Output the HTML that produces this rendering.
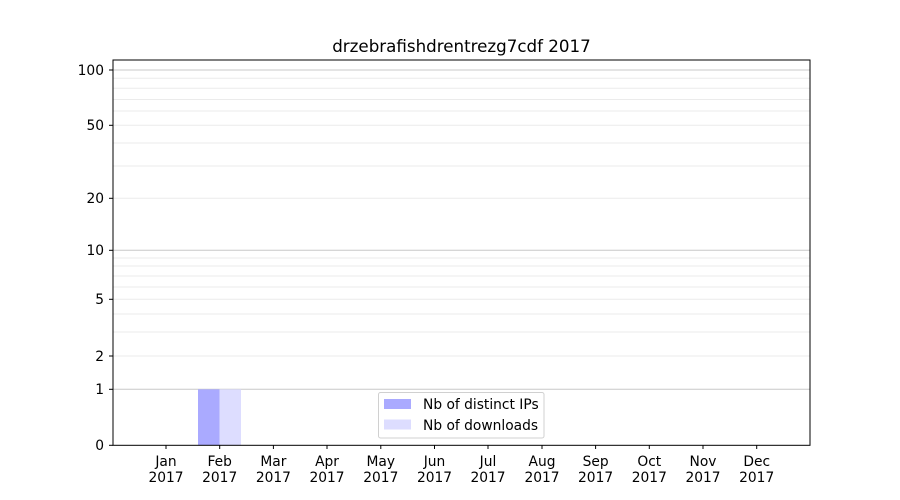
<!DOCTYPE html>
<html><head><meta charset="utf-8"><style>body{margin:0;background:#fff}svg{display:block}text{font-family:"DejaVu Sans","Liberation Sans",sans-serif;font-size:13.8px;fill:#000}</style></head><body>
<svg width="900" height="500" xmlns="http://www.w3.org/2000/svg">
<rect width="900" height="500" fill="#fff"/>
<g stroke="#ebebeb" stroke-width="1">
<line x1="113" x2="810" y1="78.3" y2="78.3"/><line x1="113" x2="810" y1="88.3" y2="88.3"/><line x1="113" x2="810" y1="99.5" y2="99.5"/><line x1="113" x2="810" y1="111" y2="111"/><line x1="113" x2="810" y1="143" y2="143"/><line x1="113" x2="810" y1="166" y2="166"/><line x1="113" x2="810" y1="198.3" y2="198.3"/><line x1="113" x2="810" y1="125.3" y2="125.3"/>
<line x1="113" x2="810" y1="258" y2="258"/><line x1="113" x2="810" y1="266" y2="266"/><line x1="113" x2="810" y1="276" y2="276"/><line x1="113" x2="810" y1="287" y2="287"/><line x1="113" x2="810" y1="299.3" y2="299.3"/><line x1="113" x2="810" y1="314" y2="314"/><line x1="113" x2="810" y1="332" y2="332"/><line x1="113" x2="810" y1="356" y2="356"/>
</g>
<g stroke="#c8c8c8" stroke-width="1"><line x1="113" x2="810" y1="70" y2="70"/><line x1="113" x2="810" y1="250.3" y2="250.3"/><line x1="113" x2="810" y1="389.3" y2="389.3"/></g>
<rect x="198" y="389.3" width="21.5" height="56" fill="#aaaaff"/>
<rect x="219.5" y="389.3" width="21.5" height="56" fill="#ddddff"/>
<rect x="113" y="60" width="697" height="385.3" fill="none" stroke="#000" stroke-width="1"/>
<text x="461.5" y="52" text-anchor="middle" style="font-size:16.7px">drzebrafishdrentrezg7cdf 2017</text>
<g stroke="#000"><line x1="109" x2="113" y1="70" y2="70"/><line x1="109" x2="113" y1="125.3" y2="125.3"/><line x1="109" x2="113" y1="198.3" y2="198.3"/><line x1="109" x2="113" y1="250.3" y2="250.3"/><line x1="109" x2="113" y1="299.3" y2="299.3"/><line x1="109" x2="113" y1="356" y2="356"/><line x1="109" x2="113" y1="389.3" y2="389.3"/><line x1="109" x2="113" y1="445.3" y2="445.3"/></g>
<g text-anchor="end"><text x="104" y="75">100</text><text x="104" y="130">50</text><text x="104" y="203">20</text><text x="104" y="255">10</text><text x="104" y="304">5</text><text x="104" y="361">2</text><text x="104" y="394">1</text><text x="104" y="450">0</text></g>
<g stroke="#000">
<line x1="166" x2="166" y1="445" y2="449"/><line x1="219.7" x2="219.7" y1="445" y2="449"/><line x1="273.4" x2="273.4" y1="445" y2="449"/><line x1="327" x2="327" y1="445" y2="449"/><line x1="380.8" x2="380.8" y1="445" y2="449"/><line x1="434.5" x2="434.5" y1="445" y2="449"/><line x1="488" x2="488" y1="445" y2="449"/><line x1="542" x2="542" y1="445" y2="449"/><line x1="595.6" x2="595.6" y1="445" y2="449"/><line x1="649.3" x2="649.3" y1="445" y2="449"/><line x1="703" x2="703" y1="445" y2="449"/><line x1="756.7" x2="756.7" y1="445" y2="449"/>
</g>
<g text-anchor="middle">
<text x="166" y="466">Jan</text><text x="166" y="482">2017</text>
<text x="219.7" y="466">Feb</text><text x="219.7" y="482">2017</text>
<text x="273.4" y="466">Mar</text><text x="273.4" y="482">2017</text>
<text x="327" y="466">Apr</text><text x="327" y="482">2017</text>
<text x="380.8" y="466">May</text><text x="380.8" y="482">2017</text>
<text x="434.5" y="466">Jun</text><text x="434.5" y="482">2017</text>
<text x="488" y="466">Jul</text><text x="488" y="482">2017</text>
<text x="542" y="466">Aug</text><text x="542" y="482">2017</text>
<text x="595.6" y="466">Sep</text><text x="595.6" y="482">2017</text>
<text x="649.3" y="466">Oct</text><text x="649.3" y="482">2017</text>
<text x="703" y="466">Nov</text><text x="703" y="482">2017</text>
<text x="756.7" y="466">Dec</text><text x="756.7" y="482">2017</text>
</g>
<rect x="378.5" y="392.5" width="165.5" height="45.5" rx="2" fill="#fff" fill-opacity="0.8" stroke="#d0d0d0"/>
<rect x="384" y="399" width="27" height="10" fill="#aaaaff"/>
<rect x="384" y="419.5" width="27" height="10" fill="#ddddff"/>
<text x="423" y="409">Nb of distinct IPs</text>
<text x="423" y="430">Nb of downloads</text>
</svg>
</body></html>
